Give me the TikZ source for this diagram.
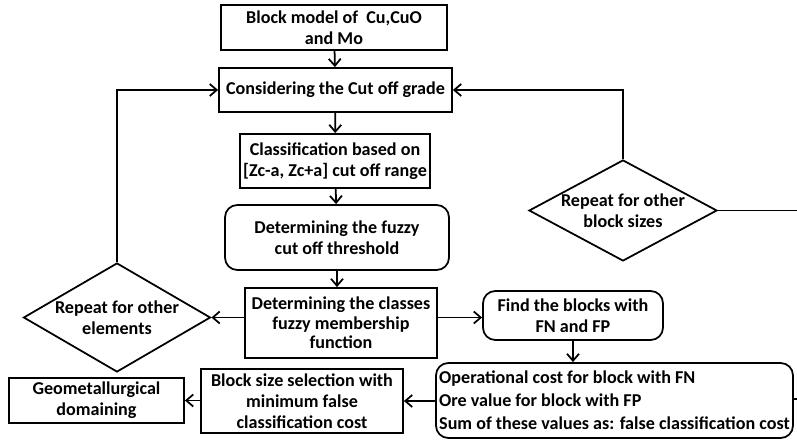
\documentclass[tikz,border=0pt]{standalone}
\usepackage{fontspec}
\setmainfont{Carlito}
\usetikzlibrary{arrows.meta}
\usetikzlibrary{shapes.geometric}
\tikzset{
process/.style = { rectangle, draw = black, fill = white, line width = 1pt, align = center, inner sep = 1pt, font = \fontsize{10.3}{12}\selectfont\bfseries },
rounded process/.style = { process, rounded corners = 7pt },
decision/.style = { diamond, draw = black, fill = white, line width = 1pt, align = center, inner sep = -4pt, shape aspect = 1.75, font = \fontsize{10.3}{12}\selectfont\bfseries },
flow/.style = { draw = black, line width = 1pt, -{Straight Barb[length = 1.4mm, width = 2.4mm]} },
}

\begin{document}
\begin{tikzpicture}[x = 0.2mm, y = -0.2mm]
    \useasboundingbox (0, 0) rectangle (797, 441);
    \node[process, minimum width = 45.2mm, minimum height = 9mm] (model) at (334, 27.5) {Block model of \ Cu,CuO\\and Mo};
    \node[process, minimum width = 46.6mm, minimum height = 8.8mm] (cutoff) at (335.5, 90) {Considering the Cut off grade};
    \node[process, minimum width = 38mm, minimum height = 10.8mm] (classif) at (335, 161) {Classification based on\\{[Zc-a, Zc+a]} cut off range};
    \node[rounded process, minimum width = 44.8mm, minimum height = 13mm] (fuzzy) at (337, 237.5) {Determining the fuzzy\\cut off threshold};
    \node[process, minimum width = 38.4mm, minimum height = 14mm, font = \fontsize{10.3}{11}\selectfont\bfseries] (classes) at (341, 323) {Determining the classes\\fuzzy membership\\function};
    \node[decision, minimum width = 37.4mm, minimum height = 21.8mm] (elements) at (117, 317.5) {Repeat for other\\elements};
    \node[rounded process, minimum width = 36mm, minimum height = 9.8mm] (find) at (573, 315.5) {Find the blocks with\\FN and FP};
    \node[decision, minimum width = 37.6mm, minimum height = 20.2mm] (sizes) at (623, 210.5) {Repeat for other\\block sizes};
    \node[rounded process, align = left, minimum width = 71.4mm, minimum height = 15mm, font = \fontsize{10.3}{13.2}\selectfont\bfseries] (cost) at (614.5, 400.5) {Operational cost for block with FN\\Ore value for block with FP\\Sum of these values as: false classification cost};
    \node[process, minimum width = 40.4mm, minimum height = 12.8mm] (select) at (302, 401) {Block size selection with\\minimum false\\classification cost};
    \node[process, minimum width = 35mm, minimum height = 9mm] (geo) at (96.5, 400.5) {Geometallurgical\\domaining};
    \coordinate (edge top) at (797, 210.5);
    \coordinate (edge bottom) at (797, 399);

    \draw[flow] (model) -- (cutoff);
    \draw[flow] (cutoff) -- (classif);
    \draw[flow] (classif) -- (fuzzy);
    \draw[flow] (fuzzy) -- (fuzzy |- classes.north);
    \draw[flow] (classes.west |- elements) -- (elements.east);
    \draw[flow] (elements.north) |- (cutoff.west);
    \draw[flow] (classes.east |- elements) -- (find.west |- elements);
    \draw[flow] (find) -- (find |- cost.north);
    \draw[flow] (cost.west |- select) -- (select.east);
    \draw[flow] (select.west |- geo) -- (geo.east);
    \draw[flow] (sizes.north) |- (cutoff.east);
    \draw[draw = black, line width = 1pt] (sizes.east) -- (edge top);
    \draw[draw = black, line width = 1pt] (cost.east |- edge bottom) -- (edge bottom);
\end{tikzpicture}
\end{document}
